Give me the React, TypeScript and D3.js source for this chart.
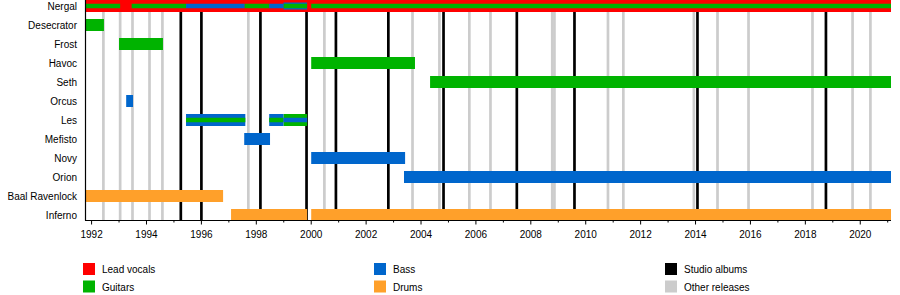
import React from "react";
import * as d3 from "d3";

const START = 1991.76;
const END = 2021.12;

const members = [
  "Nergal", "Desecrator", "Frost", "Havoc", "Seth", "Orcus", "Les",
  "Mefisto", "Novy", "Orion", "Baal Ravenlock", "Inferno",
];

// [member, from, till]
const vocals: [string, number, number][] = [["Nergal", START, END]];
const guitars: [string, number, number][] = [
  ["Desecrator", START, 1992.45],
  ["Frost", 1993.0, 1994.6],
  ["Havoc", 2000.0, 2003.78],
  ["Seth", 2004.33, END],
  ["Les", 1998.99, 1999.85],
];
const bass: [string, number, number][] = [
  ["Orcus", 1993.26, 1993.51],
  ["Les", 1995.44, 1997.6],
  ["Les", 1998.47, 1998.99],
  ["Mefisto", 1997.56, 1998.5],
  ["Novy", 2000.0, 2003.42],
  ["Orion", 2003.38, END],
];
const drums: [string, number, number][] = [
  ["Baal Ravenlock", START, 1996.79],
  ["Inferno", 1997.08, 1999.85],
  ["Inferno", 2000.0, END],
];
// secondary roles drawn as thin stripes
const bassBands: [string, number, number][] = [["Nergal", 1998.99, 1999.85]];
const guitarStripes: [string, number, number][] = [
  ["Nergal", START, 1993.04],
  ["Nergal", 1993.46, 1995.44],
  ["Nergal", 1997.57, 1998.47],
  ["Nergal", 1998.99, 1999.85],
  ["Nergal", 2000.0, END],
  ["Les", 1995.44, 1997.6],
  ["Les", 1998.47, 1998.99],
];
const bassStripes: [string, number, number][] = [
  ["Nergal", 1995.44, 1997.57],
  ["Nergal", 1998.47, 1998.99],
  ["Les", 1998.99, 1999.85],
];

const studioAlbums = [1995.25, 1996.0, 1998.15, 1999.83, 2000.9, 2002.81, 2004.82, 2007.49, 2009.59, 2014.07, 2018.75];
const otherReleases = [1992.43, 1993.04, 1993.49, 1994.11, 1994.58, 1997.71, 2000.48, 2003.69, 2004.67, 2005.76, 2006.53, 2008.78, 2008.86, 2010.81, 2011.37, 2013.94, 2014.8, 2015.93, 2018.26, 2019.72, 2020.37];

const tickYears = d3.range(1992, 2022);
const legendLabels = ["Lead vocals", "Guitars", "Bass", "Drums", "Studio albums", "Other releases"];

const colors: Record<string, string> = {
  "Lead vocals": "#ff0000",
  Guitars: "#00b300",
  Bass: "#0066cc",
  Drums: "#ffa02a",
  "Studio albums": "#000000",
  "Other releases": "#cccccc",
};

export default function App() {
  const W = 900, H = 295;
  const left = 85, right = 891, axisY = 220;
  const x = d3.scaleLinear().domain([START, END]).range([left, right]);
  const y = d3.scaleBand().domain(members).range([-3.5, 224.5]).paddingInner(0);
  const cy = (m: string) => (y(m) as number) + y.bandwidth() / 2;
  const barH = 12;
  const font = "'Liberation Sans', Arial, Helvetica, sans-serif";

  const rects = (data: [string, number, number][], color: string, h: number, key: string) =>
    data.map(([m, a, b], i) => (
      <rect key={key + i} x={x(a)} y={cy(m) - h / 2} width={x(b) - x(a)} height={h} fill={color} />
    ));

  return (
    <div style={{ position: "absolute", left: 0, top: 0 }}>
      <svg width={W} height={H} style={{ display: "block", background: "#fff" }}>
        {otherReleases.map((d, i) => (
          <line key={"o" + i} x1={x(d)} x2={x(d)} y1={0} y2={axisY} stroke={colors["Other releases"]} strokeWidth={2.7} />
        ))}
        {studioAlbums.map((d, i) => (
          <line key={"s" + i} x1={x(d)} x2={x(d)} y1={0} y2={axisY} stroke={colors["Studio albums"]} strokeWidth={2.7} />
        ))}
        {rects(vocals, colors["Lead vocals"], barH, "v")}
        {rects(guitars, colors.Guitars, barH, "g")}
        {rects(bass, colors.Bass, barH, "b")}
        {rects(drums, colors.Drums, barH, "d")}
        {rects(bassBands, colors.Bass, 7, "bb")}
        {rects(guitarStripes, colors.Guitars, 4.5, "gs")}
        {rects(bassStripes, colors.Bass, 4.5, "bs")}

        {members.map((m) => (
          <text key={m} x={77} y={cy(m) + 4} textAnchor="end" fontFamily={font} fontSize={10} fill="#000">
            {m}
          </text>
        ))}

        <line x1={left + 0.5} x2={left + 0.5} y1={0} y2={axisY + 0.5} stroke="#000" strokeWidth={1.2} />
        <line x1={left} x2={right} y1={axisY + 0.5} y2={axisY + 0.5} stroke="#000" strokeWidth={1.2} />
        {tickYears.map((t) => (
          <line key={"t" + t} x1={x(t)} x2={x(t)} y1={axisY} y2={axisY + (t % 2 === 0 ? 4.5 : 2.5)} stroke="#000" strokeWidth={1} />
        ))}
        {tickYears.filter((t) => t % 2 === 0).map((t) => (
          <text key={"l" + t} x={x(t)} y={238} textAnchor="middle" fontFamily={font} fontSize={10} fill="#000">
            {t}
          </text>
        ))}

        {legendLabels.map((l, i) => {
          const col = Math.floor(i / 2);
          const row = i % 2;
          const lx = 83 + col * 291;
          const ly = 263 + row * 17.5;
          return (
            <g key={l}>
              <rect x={lx} y={ly} width={12} height={12} fill={colors[l]} />
              <text x={lx + 19} y={ly + 10} fontFamily={font} fontSize={10} fill="#000">
                {l}
              </text>
            </g>
          );
        })}
      </svg>
    </div>
  );
}
